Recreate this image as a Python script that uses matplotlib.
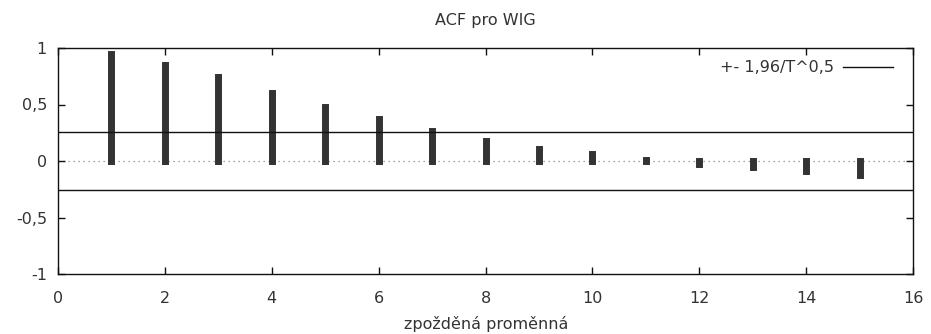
import matplotlib
matplotlib.use("Agg")
import matplotlib.pyplot as plt
from matplotlib.ticker import FuncFormatter

lags = list(range(1, 16))
acf = [0.946, 0.85, 0.74, 0.60, 0.475, 0.37, 0.265, 0.174, 0.11, 0.058,
       0.013, -0.03, -0.053, -0.088, -0.128]
band = 0.26
title = "ACF pro WIG"
xlabel = "zpožděná proměnná"
legend_label = "+- 1,96/T^0,5"
xticks = [0, 2, 4, 6, 8, 10, 12, 14, 16]
yticks = [-1, -0.5, 0, 0.5, 1]

FS = 11.5
TC = '#333333'
plt.rcParams['font.family'] = ['DejaVu Sans']
W, H = 931, 334
fig = plt.figure(figsize=(W / 100, H / 100), dpi=100)
ax = fig.add_axes([58 / W, 1 - 274 / H, 855 / W, 226 / H])

ax.axhline(0, color='#888888', linestyle=(0, (1, 3)), linewidth=0.9, zorder=1)
ax.vlines(lags, 0, acf, colors='#333333', linewidth=5.0, capstyle='projecting', zorder=2)
ax.axhline(band, color='#111111', linewidth=1.0, zorder=3, label=legend_label)
ax.axhline(-band, color='#111111', linewidth=1.0, zorder=3)

ax.set_xlim(0, 16)
ax.set_ylim(-1, 1)
ax.set_xticks(xticks)
ax.set_yticks(yticks)

def fmt(v, pos):
    return ('%g' % v).replace('.', ',')
ax.xaxis.set_major_formatter(FuncFormatter(fmt))
ax.yaxis.set_major_formatter(FuncFormatter(fmt))
ax.tick_params(direction='in', length=5, width=1, top=True, right=True,
               labelsize=FS, labelcolor=TC, color='#111111')
ax.tick_params(axis='x', pad=12)
ax.tick_params(axis='y', pad=8)
for sp in ax.spines.values():
    sp.set_color('#111111')
    sp.set_linewidth(1.0)

fig.text(485 / W, 1 - 20 / H, title, fontsize=FS, color=TC, ha='center', va='center')
fig.text(486 / W, 1 - 329 / H, xlabel, fontsize=FS, color=TC, ha='center', va='baseline')

leg = ax.legend(loc='center right', bbox_to_anchor=((893 - 58) / 855, (274 - 68) / 226),
                frameon=False, markerfirst=False, fontsize=FS, handlelength=3.1,
                handletextpad=0.6, borderaxespad=0, borderpad=0)
for t in leg.get_texts():
    t.set_color(TC)

fig.savefig("out.png", dpi=100)
